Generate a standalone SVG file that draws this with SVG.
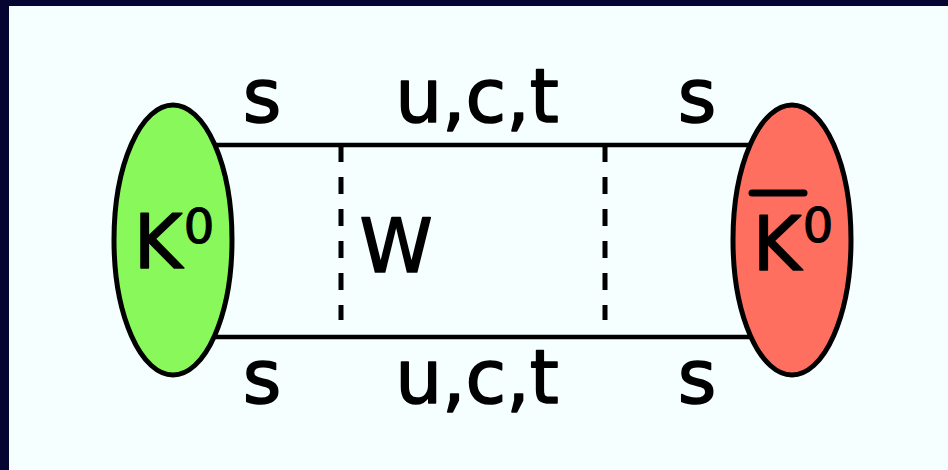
<svg xmlns="http://www.w3.org/2000/svg" width="948" height="470" viewBox="0 0 948 470">
<style>
.lbl{font-family:"DejaVu Sans","Liberation Sans",sans-serif;fill:#000;stroke:#000;stroke-width:1.6;stroke-linejoin:round;text-anchor:middle}
.big{font-size:74px}
.sup{font-size:48px;stroke-width:1.2}
.quark{stroke:#000;stroke-width:4.5;fill:none}
.w{stroke:#000;stroke-width:5;stroke-dasharray:17 15;fill:none}
.blob{stroke:#000;stroke-width:5}
</style>
<rect x="0" y="0" width="948" height="470" fill="#060430"/>
<rect x="9" y="6" width="939" height="464" fill="#F5FFFF"/>
<g id="connectors">
<line class="quark" x1="210" y1="145" x2="760" y2="145"/>
<line class="quark" x1="210" y1="337" x2="760" y2="337"/>
<line class="w" x1="341" y1="145" x2="341" y2="320"/>
<line class="w" x1="605" y1="145" x2="605" y2="320"/>
</g>
<g id="K0">
<ellipse class="blob" cx="173" cy="240" rx="59" ry="135" fill="#88F85A"/>
<text class="lbl big" x="158" y="268">K</text>
<text class="lbl sup" x="199" y="243">0</text>
</g>
<g id="K0bar">
<ellipse class="blob" cx="792" cy="240" rx="59" ry="135" fill="#FF6F5F"/>
<line x1="752" y1="193" x2="804" y2="193" stroke="#000" stroke-width="7" stroke-linecap="round"/>
<text class="lbl big" x="777" y="270">K</text>
<text class="lbl sup" x="818" y="242">0</text>
</g>
<g id="labels">
<text class="lbl big" x="262" y="122">s</text>
<text class="lbl big" x="477" y="122">u,c,t</text>
<text class="lbl big" x="697" y="122">s</text>
<text class="lbl big" x="262" y="403">s</text>
<text class="lbl big" x="477" y="403">u,c,t</text>
<text class="lbl big" x="697" y="403">s</text>
<text class="lbl big" x="396" y="272">W</text>
</g>
</svg>
